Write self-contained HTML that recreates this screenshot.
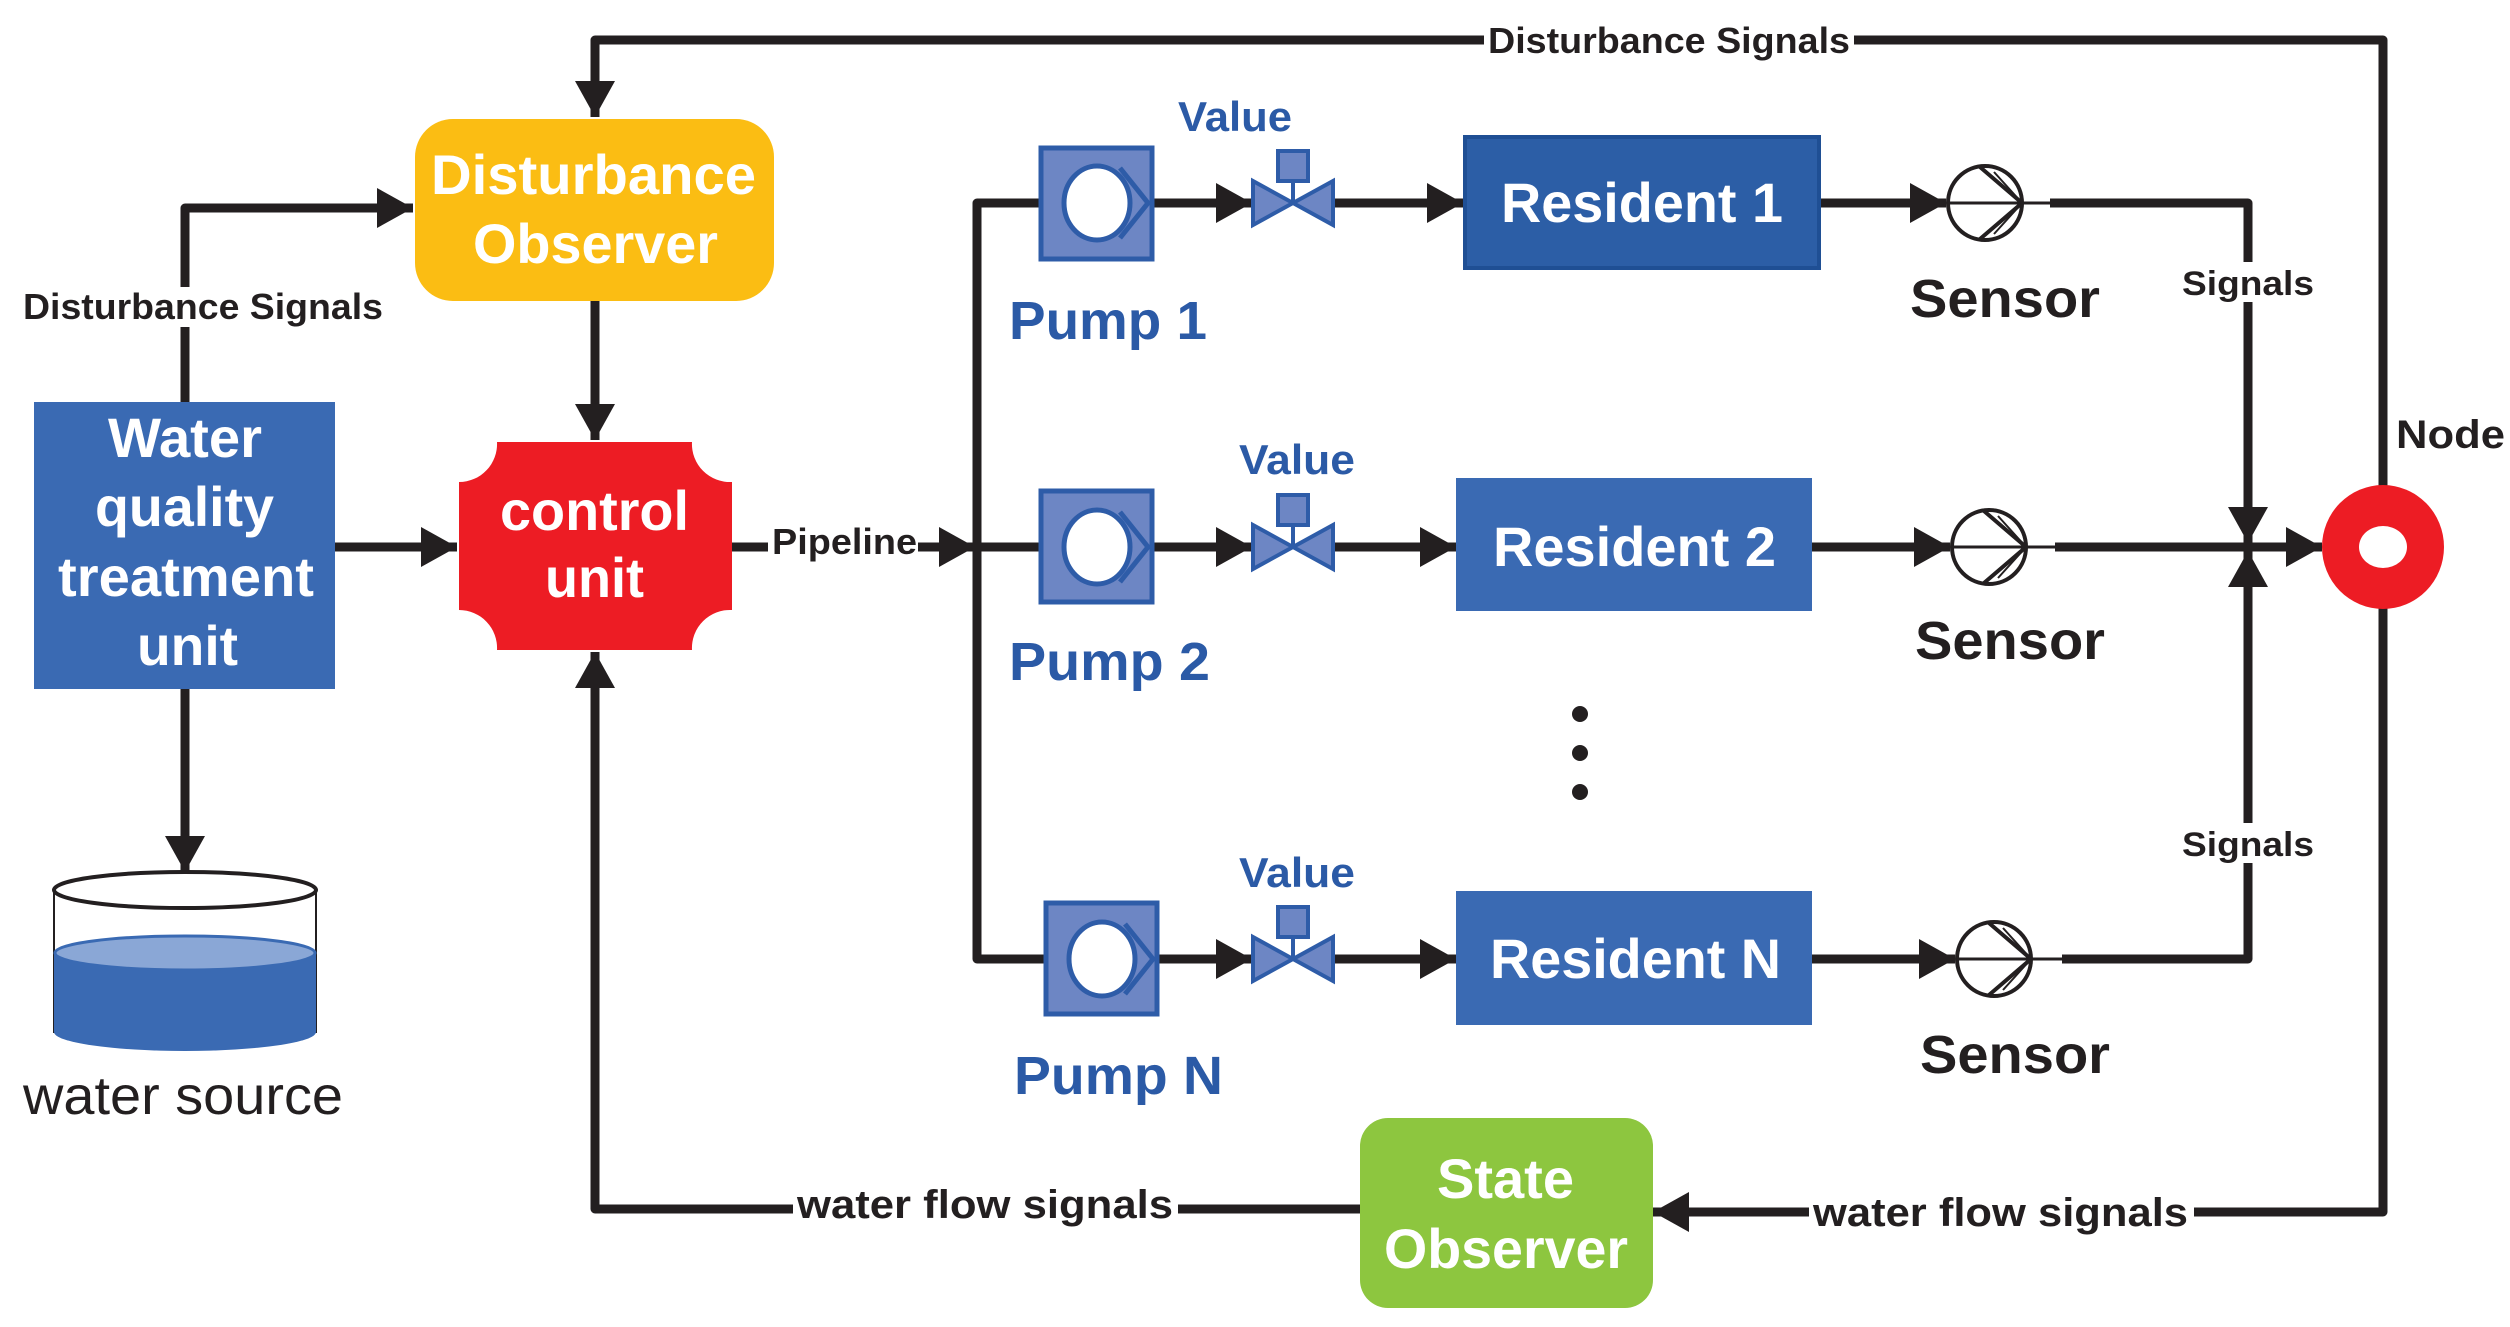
<!DOCTYPE html>
<html><head><meta charset="utf-8"><style>html,body{margin:0;padding:0;background:#fff}svg{display:block}</style></head>
<body>
<svg width="2510" height="1327" viewBox="0 0 2510 1327" xmlns="http://www.w3.org/2000/svg" font-family="Liberation Sans, sans-serif" font-weight="bold">
<defs>
<marker id="a" markerUnits="userSpaceOnUse" markerWidth="38" markerHeight="40" refX="36" refY="20" orient="auto"><path d="M0,0 L36,20 L0,40 z" fill="#231f20"/></marker>
</defs>
<g stroke="#231f20" stroke-width="9" fill="none" stroke-linejoin="round">
<polyline points="2383,547 2383,40 595,40 595,117" marker-end="url(#a)"/>
<polyline points="185,402 185,208 413,208" marker-end="url(#a)"/>
<line x1="335" y1="547" x2="457" y2="547" marker-end="url(#a)"/>
<line x1="595" y1="301" x2="595" y2="440" marker-end="url(#a)"/>
<line x1="185" y1="689" x2="185" y2="872" marker-end="url(#a)"/>
<line x1="732" y1="547" x2="975" y2="547" marker-end="url(#a)"/>
<polyline points="1041,203 977,203 977,959 1046,959"/>
<line x1="977" y1="547" x2="1041" y2="547"/>
<line x1="1152" y1="203" x2="1252" y2="203" marker-end="url(#a)"/>
<line x1="1152" y1="547" x2="1252" y2="547" marker-end="url(#a)"/>
<line x1="1157" y1="959" x2="1252" y2="959" marker-end="url(#a)"/>
<line x1="1334" y1="203" x2="1463" y2="203" marker-end="url(#a)"/>
<line x1="1334" y1="547" x2="1456" y2="547" marker-end="url(#a)"/>
<line x1="1334" y1="959" x2="1456" y2="959" marker-end="url(#a)"/>
<line x1="1821" y1="203" x2="1946" y2="203" marker-end="url(#a)"/>
<line x1="1812" y1="547" x2="1950" y2="547" marker-end="url(#a)"/>
<line x1="1812" y1="959" x2="1955" y2="959" marker-end="url(#a)"/>
<polyline points="2050,203 2248,203 2248,543" marker-end="url(#a)"/>
<line x1="2055" y1="547" x2="2322" y2="547" marker-end="url(#a)"/>
<polyline points="2062,959 2248,959 2248,551" marker-end="url(#a)"/>
<polyline points="2383,547 2383,1212 1653,1212" marker-end="url(#a)"/>
<polyline points="1360,1209 595,1209 595,652" marker-end="url(#a)"/>
</g>
<g fill="#fff">
<rect x="1484" y="20" width="370" height="40"/>
<rect x="20" y="287" width="370" height="40"/>
<rect x="768" y="522" width="150" height="40"/>
<rect x="2178" y="262" width="140" height="40"/>
<rect x="2178" y="823" width="140" height="40"/>
<rect x="793" y="1186" width="385" height="40"/>
<rect x="1809" y="1193" width="385" height="40"/>
</g>
<rect x="415" y="119" width="359" height="182" rx="38" fill="#fbbd13"/>
<rect x="34" y="402" width="301" height="287" fill="#3a6ab3"/>
<path d="M497,442 L692,442 A38,38 0 0 0 732,482 L732,610 A38,38 0 0 0 692,650 L497,650 A38,38 0 0 0 459,610 L459,482 A38,38 0 0 0 497,442 z" fill="#ed1c24"/>
<rect x="1465" y="137" width="354" height="131" fill="#2c5ea6" stroke="#1f4f94" stroke-width="4"/>
<rect x="1456" y="478" width="356" height="133" fill="#3a6ab3"/>
<rect x="1456" y="891" width="356" height="134" fill="#3a6ab3"/>
<rect x="1360" y="1118" width="293" height="190" rx="28" fill="#8dc63f"/>
<g fill="#6d86c4" stroke="#2e5ca8" stroke-width="5">
<rect x="1041" y="148" width="111" height="111"/>
<rect x="1041" y="491" width="111" height="111"/>
<rect x="1046" y="903" width="111" height="111"/>
</g>
<g fill="#fff" stroke="#2e5ca8" stroke-width="5">
<ellipse cx="1097" cy="203" rx="33" ry="37"/><polyline fill="none" points="1120,168 1148,203 1120,238"/>
<ellipse cx="1097" cy="547" rx="33" ry="37"/><polyline fill="none" points="1120,512 1148,547 1120,582"/>
<ellipse cx="1102" cy="959" rx="33" ry="37"/><polyline fill="none" points="1125,924 1153,959 1125,994"/>
</g>
<g fill="#6d86c4" stroke="#2e5ca8" stroke-width="4">
<path d="M1253,181 L1253,225 L1293,203 z M1333,181 L1333,225 L1293,203 z"/><line x1="1293" y1="203" x2="1293" y2="180"/><rect x="1278" y="151" width="30" height="30"/>
<path d="M1253,525 L1253,569 L1293,547 z M1333,525 L1333,569 L1293,547 z"/><line x1="1293" y1="547" x2="1293" y2="524"/><rect x="1278" y="495" width="30" height="30"/>
<path d="M1253,937 L1253,981 L1293,959 z M1333,937 L1333,981 L1293,959 z"/><line x1="1293" y1="959" x2="1293" y2="936"/><rect x="1278" y="907" width="30" height="30"/>
</g>
<g fill="none" stroke="#231f20" stroke-width="4">
<circle cx="1985" cy="203" r="37"/><line x1="1948" y1="203" x2="2058" y2="203" stroke-width="3"/><polyline points="1980,167 2022,203 1980,239"/><polyline points="1994,172 2022,203 1994,234" stroke-width="2"/>
<circle cx="1989" cy="547" r="37"/><line x1="1952" y1="547" x2="2062" y2="547" stroke-width="3"/><polyline points="1984,511 2026,547 1984,583"/><polyline points="1998,516 2026,547 1998,578" stroke-width="2"/>
<circle cx="1994" cy="959" r="37"/><line x1="1957" y1="959" x2="2068" y2="959" stroke-width="3"/><polyline points="1989,923 2031,959 1989,995"/><polyline points="2003,928 2031,959 2003,990" stroke-width="2"/>
</g>
<ellipse cx="2383" cy="547" rx="61" ry="62" fill="#ed1c24"/>
<ellipse cx="2383" cy="547" rx="24" ry="21" fill="#fff"/>
<g fill="#231f20"><circle cx="1580" cy="714" r="8"/><circle cx="1580" cy="753" r="8"/><circle cx="1580" cy="792" r="8"/></g>
<rect x="54" y="890" width="262" height="142" fill="none" stroke="#231f20" stroke-width="2"/>
<path d="M54,953 L54,1032 A131,19 0 0 0 316,1032 L316,953 z" fill="#3a6ab3"/>
<ellipse cx="185" cy="953" rx="130" ry="17" fill="#8aa7d6" stroke="#3a6ab3" stroke-width="3"/>
<ellipse cx="185" cy="890" rx="131" ry="18" fill="#fff" stroke="#231f20" stroke-width="4"/>
<g fill="#fff" font-size="56">
<text x="431" y="194" textLength="325" lengthAdjust="spacingAndGlyphs">Disturbance</text>
<text x="473" y="263" textLength="245" lengthAdjust="spacingAndGlyphs">Observer</text>
<text x="108" y="457" textLength="154" lengthAdjust="spacingAndGlyphs">Water</text>
<text x="95" y="526" textLength="179" lengthAdjust="spacingAndGlyphs">quality</text>
<text x="58" y="596" textLength="256" lengthAdjust="spacingAndGlyphs">treatment</text>
<text x="137" y="665" textLength="101" lengthAdjust="spacingAndGlyphs">unit</text>
<text x="500" y="530" textLength="189" lengthAdjust="spacingAndGlyphs">control</text>
<text x="545" y="597" textLength="99" lengthAdjust="spacingAndGlyphs">unit</text>
<text x="1501" y="222" textLength="282" lengthAdjust="spacingAndGlyphs">Resident 1</text>
<text x="1493" y="566" textLength="283" lengthAdjust="spacingAndGlyphs">Resident 2</text>
<text x="1490" y="978" textLength="291" lengthAdjust="spacingAndGlyphs">Resident N</text>
<text x="1437" y="1198" textLength="137" lengthAdjust="spacingAndGlyphs">State</text>
<text x="1384" y="1268" textLength="244" lengthAdjust="spacingAndGlyphs">Observer</text>
</g>
<g fill="#2b5aa6">
<text x="1009" y="339" font-size="54" textLength="198" lengthAdjust="spacingAndGlyphs">Pump 1</text>
<text x="1009" y="680" font-size="54" textLength="201" lengthAdjust="spacingAndGlyphs">Pump 2</text>
<text x="1014" y="1094" font-size="54" textLength="209" lengthAdjust="spacingAndGlyphs">Pump N</text>
<text x="1178" y="131" font-size="42" textLength="114" lengthAdjust="spacingAndGlyphs">Value</text>
<text x="1239" y="474" font-size="42" textLength="116" lengthAdjust="spacingAndGlyphs">Value</text>
<text x="1239" y="887" font-size="42" textLength="116" lengthAdjust="spacingAndGlyphs">Value</text>
</g>
<g fill="#231f20">
<text x="1910" y="317" font-size="54" textLength="190" lengthAdjust="spacingAndGlyphs">Sensor</text>
<text x="1915" y="659" font-size="54" textLength="190" lengthAdjust="spacingAndGlyphs">Sensor</text>
<text x="1920" y="1073" font-size="54" textLength="190" lengthAdjust="spacingAndGlyphs">Sensor</text>
<text x="2182" y="295" font-size="34" textLength="132" lengthAdjust="spacingAndGlyphs">Signals</text>
<text x="2182" y="856" font-size="34" textLength="132" lengthAdjust="spacingAndGlyphs">Signals</text>
<text x="2396" y="448" font-size="40" textLength="109" lengthAdjust="spacingAndGlyphs">Node</text>
<text x="1488" y="53" font-size="36" textLength="362" lengthAdjust="spacingAndGlyphs">Disturbance Signals</text>
<text x="23" y="319" font-size="36" textLength="360" lengthAdjust="spacingAndGlyphs">Disturbance Signals</text>
<text x="772" y="554" font-size="36" textLength="145" lengthAdjust="spacingAndGlyphs">Pipeline</text>
<text x="797" y="1218" font-size="40" textLength="376" lengthAdjust="spacingAndGlyphs">water flow signals</text>
<text x="1813" y="1226" font-size="40" textLength="375" lengthAdjust="spacingAndGlyphs">water flow signals</text>
<text x="23" y="1114" font-size="54" font-weight="normal" textLength="320" lengthAdjust="spacingAndGlyphs">water source</text>
</g>
</svg>
</body></html>
